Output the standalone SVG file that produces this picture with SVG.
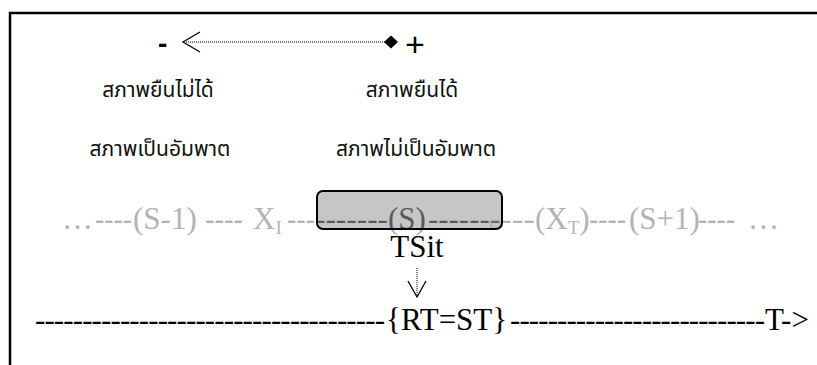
<svg xmlns="http://www.w3.org/2000/svg" width="817" height="365" viewBox="0 0 817 365">
<style>
.thai{font-family:"Noto Sans Thai","Tahoma","Loma","Noto Sans","DejaVu Sans",sans-serif;font-size:21px;fill:#111;text-anchor:middle}
.tm{font-family:"Liberation Serif","Times New Roman",serif;font-size:31px;fill:#000}
.row{font-family:"Liberation Serif","Times New Roman",serif;font-size:31px}
.sub{font-size:19px}
</style>
<defs>
<clipPath id="boxclip"><rect x="317" y="191" width="185" height="38" rx="6"/></clipPath>
<text id="rowtext" class="row" y="229"><tspan x="62">…</tspan><tspan x="95" textLength="37" lengthAdjust="spacingAndGlyphs">----</tspan><tspan x="133">(S-1)</tspan><tspan x="205" textLength="38" lengthAdjust="spacingAndGlyphs">----</tspan><tspan x="253">X</tspan><tspan class="sub" dy="5">I</tspan><tspan dy="-5" x="287" textLength="28" lengthAdjust="spacingAndGlyphs">---</tspan><tspan x="315" textLength="73" lengthAdjust="spacingAndGlyphs">-------</tspan><tspan x="388">(S)</tspan><tspan x="428" textLength="72" lengthAdjust="spacingAndGlyphs">-------</tspan><tspan x="500" textLength="35" lengthAdjust="spacingAndGlyphs">---</tspan><tspan x="535">(X</tspan><tspan class="sub" dy="5">T</tspan><tspan dy="-5">)</tspan><tspan x="589" textLength="37" lengthAdjust="spacingAndGlyphs">----</tspan><tspan x="629">(S+1)</tspan><tspan x="698" textLength="37" lengthAdjust="spacingAndGlyphs">----</tspan><tspan x="748">…</tspan></text>
</defs>
<rect x="10" y="13" width="900" height="400" fill="none" stroke="#000" stroke-width="2.5"/>
<g id="scale">
<text x="158" y="53" font-family="Liberation Sans,Arial,sans-serif" font-size="28" font-weight="bold" fill="#000">-</text>
<text x="405" y="56" font-family="Liberation Sans,Arial,sans-serif" font-size="34" fill="#000">+</text>
</g>
<g id="connectors">
<line x1="186" y1="42" x2="386" y2="42" stroke="#000" stroke-width="1" stroke-dasharray="1 1"/>
<polyline points="200,32 183,42 200,52" fill="none" stroke="#000" stroke-width="1.3"/>
<polygon points="384,42 391,35.5 398,42 391,48.5" fill="#000"/>
<line x1="417" y1="268" x2="417" y2="295" stroke="#000" stroke-width="1" stroke-dasharray="1 1"/>
<polyline points="408,281 417,297 426,281" fill="none" stroke="#000" stroke-width="1.3"/>
</g>
<g id="unstable">
<text class="thai" x="158" y="97">สภาพยืนไม่ได้</text>
<text class="thai" x="160" y="156">สภาพเป็นอัมพาต</text>
</g>
<g id="stable">
<text class="thai" x="412" y="97">สภาพยืนได้</text>
<text class="thai" x="416" y="156">สภาพไม่เป็นอัมพาต</text>
</g>
<g id="sequence">
<use href="#rowtext" fill="#b3b3b3"/>
</g>
<g id="state-S">
<rect x="317" y="191" width="185" height="38" rx="6" fill="#c6c6c6" stroke="none"/>
<g clip-path="url(#boxclip)"><use href="#rowtext" fill="#5a5a5a"/></g>
<rect x="491" y="221" width="9" height="7" fill="none" stroke="#999" stroke-width="0.8"/>
<rect x="317" y="191" width="185" height="38" rx="6" fill="none" stroke="#000" stroke-width="2"/>
</g>
<g id="tsit">
<text class="tm" x="417" y="257" text-anchor="middle">TSit</text>
</g>
<g id="timeline">
<text class="tm" y="330"><tspan x="35" textLength="350" lengthAdjust="spacing">-------------------------------------</tspan><tspan x="386">{RT=ST}</tspan><tspan x="510" textLength="255" lengthAdjust="spacing">---------------------------</tspan><tspan x="765">T-&gt;</tspan></text>
</g>
</svg>
